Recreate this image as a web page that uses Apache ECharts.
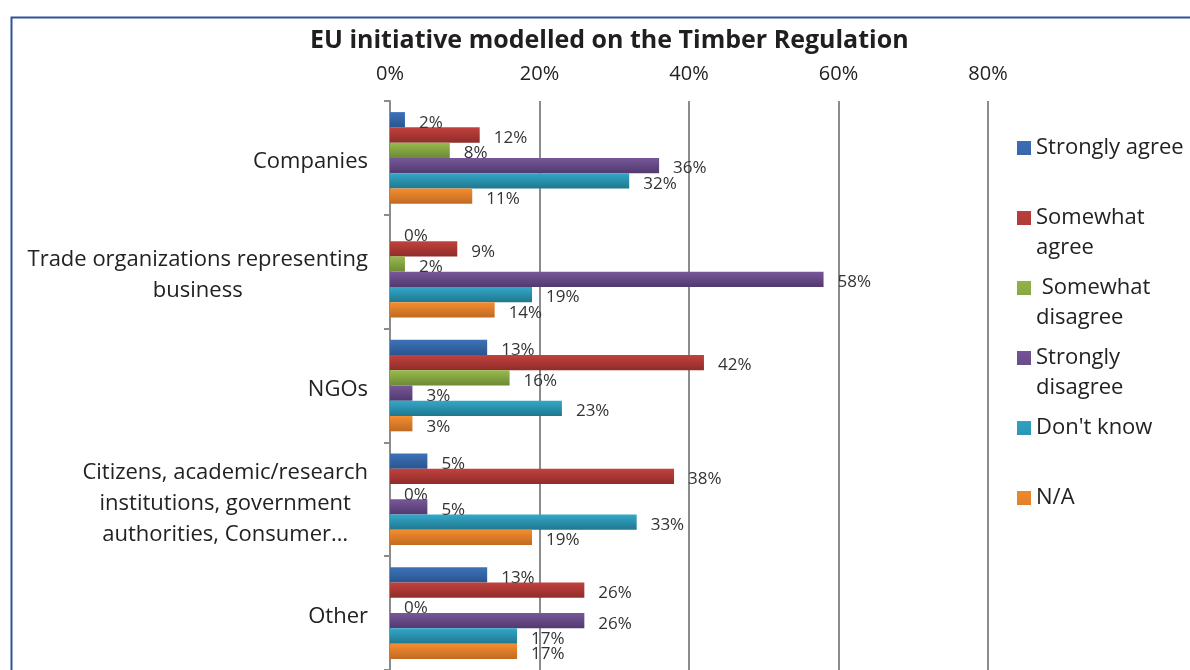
<!DOCTYPE html>
<html>
<head>
<meta charset="utf-8">
<script src="https://cdn.jsdelivr.net/npm/echarts@6/dist/echarts.min.js"></script>
<style>
  html, body { margin: 0; padding: 0; background: #fff; }
  #chart { width: 1190px; height: 670px; }
</style>
</head>
<body>
<div id="chart"></div>
<script>
// categories, top to bottom
var categories = [
  'Companies',
  'Trade organizations representing\nbusiness',
  'NGOs',
  'Citizens, academic/research\ninstitutions, government\nauthorities, Consumer…',
  'Other'
];

var seriesNames = ['Strongly agree', 'Somewhat agree', ' Somewhat disagree', 'Strongly disagree', "Don't know", 'N/A'];
var legendLabels = ['Strongly agree\n ', 'Somewhat\nagree', ' Somewhat\ndisagree', 'Strongly\ndisagree', "Don't know\n ", 'N/A\n '];

// values in %, same order as categories
var stronglyAgree    = [2, 0, 13, 5, 13];
var somewhatAgree    = [12, 9, 42, 38, 26];
var somewhatDisagree = [8, 2, 16, 0, 0];
var stronglyDisagree = [36, 58, 3, 5, 26];
var dontKnow         = [32, 19, 23, 33, 17];
var notApplicable    = [11, 14, 3, 19, 17];

var xTicks = [0, 20, 40, 60, 80];

// top / bottom colour of each bar gradient
var barColors = [
  ['#3d72b8', '#2a558f'],
  ['#c2423e', '#8f2c29'],
  ['#97ba4b', '#6d8a36'],
  ['#775799', '#52396f'],
  ['#33a8c8', '#1f778f'],
  ['#f58d2f', '#c06a23']
];

var seriesData = [stronglyAgree, somewhatAgree, somewhatDisagree, stronglyDisagree, dontKnow, notApplicable];

var font = '"Open Sans", "DejaVu Sans", sans-serif';

var chartDom = document.getElementById('chart');
var myChart = echarts.init(chartDom, null, { renderer: 'canvas' });

var series = seriesNames.map(function (name, i) {
  return {
    name: name,
    type: 'bar',
    data: seriesData[i],
    barGap: '0%',
    barCategoryGap: '19.5%',
    animation: false,
    itemStyle: {
      color: new echarts.graphic.LinearGradient(0, 0, 0, 1, [
        { offset: 0, color: barColors[i][0] },
        { offset: 1, color: barColors[i][1] }
      ])
    },
    label: {
      show: true,
      position: 'right',
      distance: 14,
      offset: [0, 3],
      formatter: '{c}%',
      fontFamily: font,
      fontSize: 17,
      color: '#333'
    }
  };
});

var option = {
  backgroundColor: '#fff',
  animation: false,
  title: {
    text: 'EU initiative modelled on the Timber Regulation',
    left: 310,
    top: 28,
    padding: 0,
    textStyle: {
      fontFamily: font,
      fontWeight: 'bold',
      fontSize: 25,
      color: '#1f1f1f'
    }
  },
  graphic: [
    {
      type: 'rect',
      left: 9,
      top: 15,
      z: 100,
      shape: { width: 1400, height: 900 },
      style: { fill: 'none', stroke: '#2f5597', lineWidth: 2 }
    }
  ],
  legend: {
    orient: 'vertical',
    left: 1017,
    top: 133,
    padding: 0,
    itemGap: 10,
    itemWidth: 14,
    itemHeight: 60,
    // square sits on the first text line
    icon: 'path://M0 0L0 0ZM0 8L14 8L14 22L0 22ZM14 60L14 60Z',
    data: seriesNames,
    formatter: function (name) {
      return legendLabels[seriesNames.indexOf(name)];
    },
    textStyle: {
      fontFamily: font,
      fontSize: 22,
      lineHeight: 30,
      color: '#222'
    }
  },
  grid: {
    left: 390,
    right: 202,
    top: 101,
    bottom: -2
  },
  xAxis: {
    type: 'value',
    position: 'top',
    min: xTicks[0],
    max: xTicks[xTicks.length - 1],
    interval: 20,
    axisLine: { show: false },
    axisTick: { show: false },
    splitLine: { lineStyle: { color: '#8c8c8c', width: 2 } },
    axisLabel: {
      formatter: '{value}%',
      margin: 17,
      fontFamily: font,
      fontSize: 20,
      color: '#222'
    }
  },
  yAxis: {
    type: 'category',
    inverse: true,
    data: categories,
    axisLine: { show: true, lineStyle: { color: '#8c8c8c', width: 2 } },
    axisTick: { show: true, length: 6, lineStyle: { color: '#8c8c8c', width: 2 } },
    axisLabel: {
      margin: 22,
      padding: [8, 0, 0, 0],
      formatter: function (value) {
        return value.split('\n').map(function (s) { return '{c|' + s + '}'; }).join('\n');
      },
      rich: {
        c: {
          align: 'center',
          fontFamily: font,
          fontSize: 22,
          lineHeight: 31,
          color: '#222'
        }
      }
    }
  },
  series: series
};

option && myChart.setOption(option);
</script>
</body>
</html>
